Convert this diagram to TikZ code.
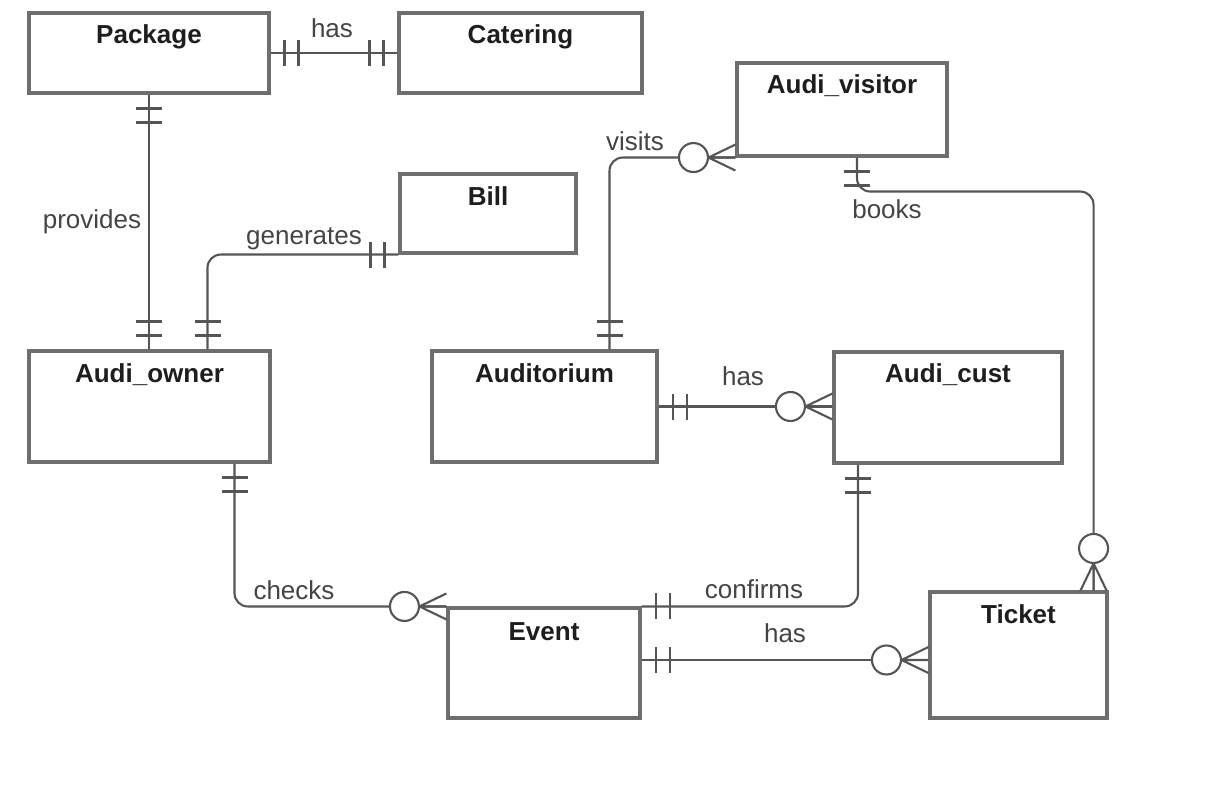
\documentclass[tikz,border=0pt]{standalone}
\usepackage{fontspec}
\setmainfont{Liberation Sans}
\usetikzlibrary{calc,fit}

\definecolor{boxline}{HTML}{6E6E6E}
\definecolor{relline}{HTML}{555555}
\definecolor{titletext}{HTML}{1E1E1E}
\definecolor{reltext}{HTML}{444444}

\tikzset{
  entity/.style={draw=boxline, line width=2.2pt, fill=white, inner sep=0pt},
  enttitle/.style={font=\fontsize{18.5}{22}\selectfont\bfseries, text=titletext},
  rellabel/.style={text=reltext},
  conn/.style={draw=relline, line width=1.5pt},
  roundbend/.style={rounded corners=0.33cm},
  pics/mandone/.style={code={
    \draw[conn] (14,-13) -- (14,13) (28,-13) -- (28,13);
  }},
  pics/zeromany/.style={code={
    \draw[conn] (0,-13) -- (27,0) -- (0,13) (0,0) -- (27,0);
    \draw[conn, fill=white] (42,0) circle (14.5);
  }},
}

\begin{document}
\begin{tikzpicture}[x=0.025cm, y=-0.025cm, font=\fontsize{18.5}{22}\selectfont]
\useasboundingbox (0,0) rectangle (1208,788);

% entities
\node[entity, fit={(29,13) (269,93)}] (package) {};
\node[entity, fit={(399,13) (642,93)}] (catering) {};
\node[entity, fit={(737,63) (947,156)}] (visitor) {};
\node[entity, fit={(400,174) (576,253)}] (bill) {};
\node[entity, fit={(29,351) (270,462)}] (owner) {};
\node[entity, fit={(432,351) (657,462)}] (auditorium) {};
\node[entity, fit={(834,352) (1062,463)}] (cust) {};
\node[entity, fit={(448,608) (640,718)}] (event) {};
\node[entity, fit={(930,592) (1107,718)}] (ticket) {};

\node[enttitle] (package-t) at ($(package.north)+(0,25)$) {Package};
\node[enttitle] (catering-t) at ($(catering.north)+(0,25)$) {Catering};
\node[enttitle] (visitor-t) at ($(visitor.north)+(0,24)$) {Audi\_visitor};
\node[enttitle] (bill-t) at ($(bill.north)+(0,24)$) {Bill};
\node[enttitle] (owner-t) at ($(owner.north)+(0,25)$) {Audi\_owner};
\node[enttitle] (auditorium-t) at ($(auditorium.north)+(0,24)$) {Auditorium};
\node[enttitle] (cust-t) at ($(cust.north)+(0,24)$) {Audi\_cust};
\node[enttitle] (event-t) at ($(event.north)+(0,25)$) {Event};
\node[enttitle] (ticket-t) at ($(ticket.north)+(0,24)$) {Ticket};

% relationships
\draw[conn] (package.east) -- (package.east -| catering.west) coordinate (cat-a);
\draw[conn] (package.south) -- (package.south |- owner.north) coordinate (own-a);
\draw[conn, roundbend] (bill.south west) -| ($(owner.north)+(58,0)$) coordinate (own-b);
\draw[conn, roundbend] ($(auditorium.north)+(65,0)$) coordinate (aud-a) |- (visitor.south west);
\draw[conn, roundbend] ($(visitor.south)+(15,0)$) coordinate (vis-a) -- ++(0,34)
  -| ($(ticket.north east)+(-15,0)$) coordinate (tic-a);
\draw[conn] (auditorium.east) -- (auditorium.east -| cust.west) coordinate (cus-a);
\draw[conn, roundbend] ($(owner.south)+(85,0)$) coordinate (own-c) |- (event.north west);
\draw[conn, roundbend] ($(cust.south)+(-90,0)$) coordinate (cus-b) |- (event.north east);
\draw[conn] ($(event.east)+(0,-3)$) coordinate (eve-a) -- (eve-a -| ticket.west) coordinate (tic-b);

% cardinality marks
\pic at (package.east) {mandone};
\pic[rotate=180] at (cat-a) {mandone};
\pic[rotate=-90] at (package.south) {mandone};
\pic[rotate=90] at (own-a) {mandone};
\pic[rotate=180] at (bill.south west) {mandone};
\pic[rotate=90] at (own-b) {mandone};
\pic[rotate=90] at (aud-a) {mandone};
\pic[rotate=180] at (visitor.south west) {zeromany};
\pic[rotate=-90] at (vis-a) {mandone};
\pic[rotate=90] at (tic-a) {zeromany};
\pic at (auditorium.east) {mandone};
\pic[rotate=180] at (cus-a) {zeromany};
\pic[rotate=-90] at (own-c) {mandone};
\pic[rotate=180] at (event.north west) {zeromany};
\pic[rotate=-90] at (cus-b) {mandone};
\pic at (event.north east) {mandone};
\pic at (eve-a) {mandone};
\pic[rotate=180] at (tic-b) {zeromany};

% labels
\node[rellabel] (has-pc) at (332,28) {has};
\node[rellabel] (provides) at (92,222) {provides};
\node[rellabel] (generates) at (304,239) {generates};
\node[rellabel] (visits) at (635,141) {visits};
\node[rellabel] (books) at (887,209) {books};
\node[rellabel] (has-ac) at (743,376) {has};
\node[rellabel] (checks) at (294,590) {checks};
\node[rellabel] (confirms) at (754,589) {confirms};
\node[rellabel] (has-et) at (785,633) {has};
\end{tikzpicture}
\end{document}
